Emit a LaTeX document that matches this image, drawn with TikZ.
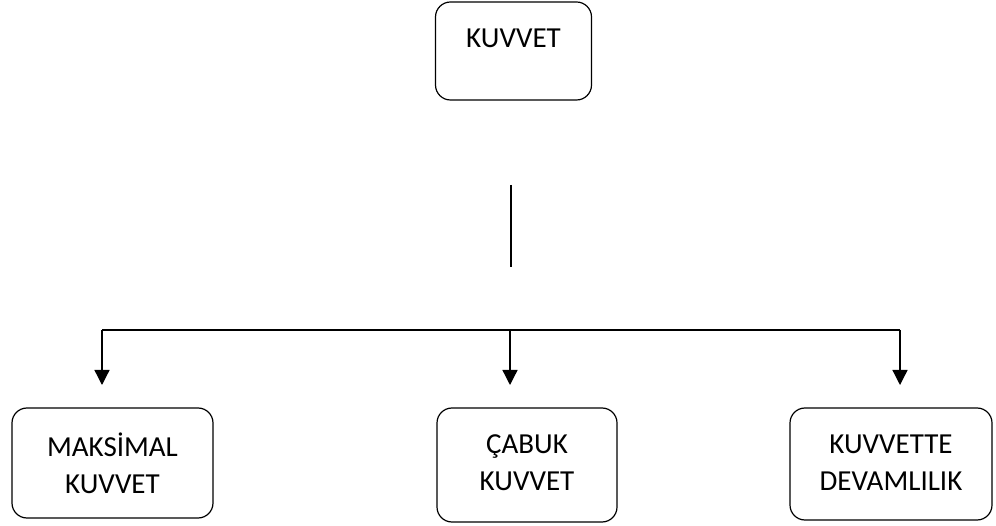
\documentclass[tikz,border=0pt]{standalone}
\usepackage{fontspec}
\setmainfont{Carlito}
\usetikzlibrary{arrows.meta}
\begin{document}
\begin{tikzpicture}[x=1pt,y=-1pt,
  box/.style={draw, line width=1.2pt, rounded corners=15pt, inner sep=0pt},
  lbl/.style={font=\fontsize{29}{37}\selectfont, align=center},
  conn/.style={line width=1.3pt},
  arr/.style={line width=1.3pt, -{Triangle[length=15pt,width=15pt]}}]
\useasboundingbox (0,0) rectangle (996,526);
% top box
\node[box, minimum width=156pt, minimum height=98pt] (top) at (513.5,51) {};
\node[lbl] (toptext) at (513.5,38) {KUVVET};
% vertical stand-alone line
\coordinate (v1) at (511,185);
\coordinate (v2) at (511,267);
\draw[conn] (v1) -- (v2);
% bottom boxes
\node[box, minimum width=201pt, minimum height=110pt] (b1) at (112.5,463) {};
\node[lbl] (t1) at (112.5,463) {MAKSİMAL\\KUVVET};
\node[box, minimum width=180pt, minimum height=114pt] (b2) at (527,465) {};
\node[lbl] (t2) at (527,463) {ÇABUK\\KUVVET};
\node[box, minimum width=202pt, minimum height=112pt] (b3) at (891,464) {};
\node[lbl] (t3) at (891,463) {KUVVETTE\\DEVAMLILIK};
% horizontal distribution line
\coordinate (hl) at (102,330);
\coordinate (hm) at (510,330);
\coordinate (hr) at (900,330);
\coordinate (a1) at (102,385);
\coordinate (a2) at (510,385);
\coordinate (a3) at (900,385);
\draw[conn] (hl) -- (hr);
\draw[arr] (hl) -- (a1);
\draw[arr] (hm) -- (a2);
\draw[arr] (hr) -- (a3);
\end{tikzpicture}
\end{document}
